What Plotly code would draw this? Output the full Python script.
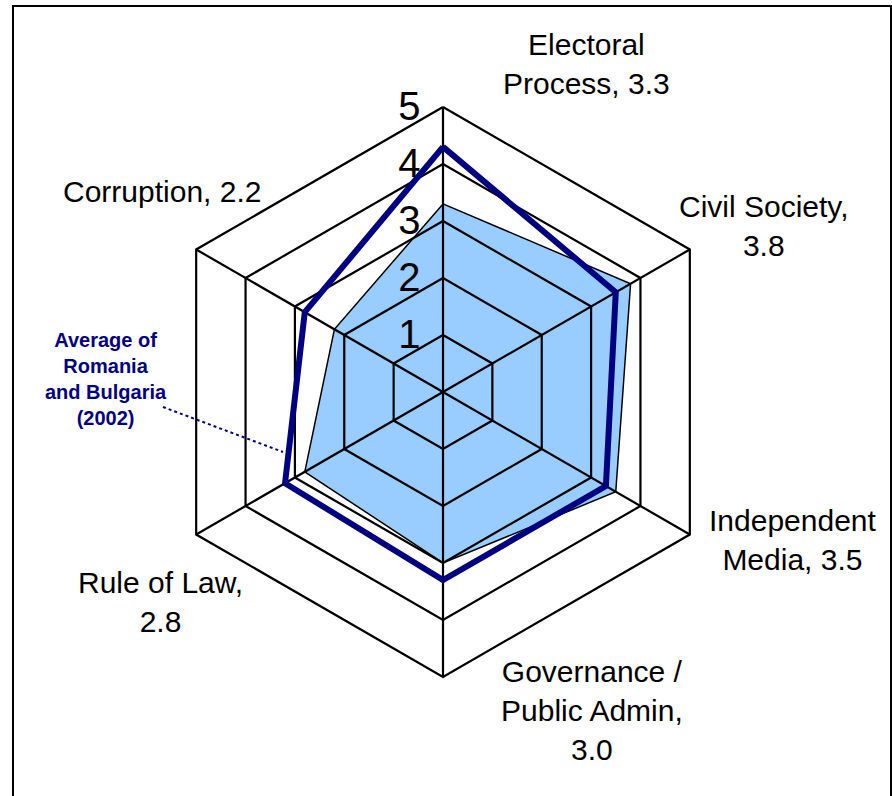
import plotly.graph_objects as go

W, H = 892, 796

categories = ["Electoral Process", "Civil Society", "Independent Media",
              "Governance / Public Admin", "Rule of Law", "Corruption"]
country_scores = [3.3, 3.8, 3.5, 3.0, 2.8, 2.2]
ro_bg_average = [4.3, 3.5, 3.3, 3.3, 3.2, 2.8]
radial_ticks = [1, 2, 3, 4, 5]
category_labels = ["Electoral<br>Process, 3.3", "Civil Society,<br>3.8",
                   "Independent<br>Media, 3.5", "Governance /<br>Public Admin,<br>3.0",
                   "Rule of Law,<br>2.8", "Corruption, 2.2"]


def px_x(v):
    return v / W


def px_y(v):
    return 1 - v / H


closed = categories + categories[:1]

fig = go.Figure()

# filled country profile
fig.add_trace(go.Scatterpolar(
    r=country_scores + country_scores[:1], theta=closed,
    fill="toself", fillcolor="#99CCFF",
    line=dict(color="black", width=1.5), mode="lines",
    hoverinfo="skip", showlegend=False,
))

# grid drawn on top of the fill, as in the original
for t in radial_ticks:
    fig.add_trace(go.Scatterpolar(
        r=[t] * len(closed), theta=closed, mode="lines",
        line=dict(color="black", width=2.2), hoverinfo="skip", showlegend=False,
    ))
for c in categories:
    fig.add_trace(go.Scatterpolar(
        r=[0, radial_ticks[-1]], theta=[c, c], mode="lines",
        line=dict(color="black", width=2.2), hoverinfo="skip", showlegend=False,
    ))

# Romania / Bulgaria average
fig.add_trace(go.Scatterpolar(
    r=ro_bg_average + ro_bg_average[:1], theta=closed, mode="lines",
    line=dict(color="#000080", width=6), showlegend=False,
))

# a little headroom past 5 so the outer ring is not clipped
rmax = 5.05
cx, cy = 443, 392
R = 285 * rmax / 5
fig.update_layout(
    width=W, height=H,
    margin=dict(l=0, r=0, t=0, b=0),
    paper_bgcolor="white",
    font=dict(family="Liberation Sans, Arial, sans-serif", color="black"),
    polar=dict(
        domain=dict(x=[px_x(cx - R), px_x(cx + R)], y=[px_y(cy + R), px_y(cy - R)]),
        gridshape="linear",
        bgcolor="white",
        radialaxis=dict(
            range=[0, rmax], tickvals=radial_ticks, angle=90, tickangle=90,
            side="counterclockwise", showgrid=False, showline=False,
            ticks="outside", ticklen=8, tickcolor="rgba(0,0,0,0)",
            tickfont=dict(size=40, color="black"),
        ),
        angularaxis=dict(
            rotation=90, direction="clockwise", showticklabels=False, ticks="",
            showgrid=False, showline=False,
        ),
    ),
)

label_pos = [(586, 64), (763, 226), (792, 540), (592, 710), (160, 602), (162, 192)]
for txt, (x, y) in zip(category_labels, label_pos):
    fig.add_annotation(x=px_x(x), y=px_y(y), xref="paper", yref="paper",
                       xanchor="center", yanchor="middle",
                       text=txt, showarrow=False, align="center",
                       font=dict(size=30, color="black"))

fig.add_annotation(x=px_x(106), y=px_y(379), xref="paper", yref="paper",
                   xanchor="center", yanchor="middle",
                   text="<b>Average of<br>Romania<br>and Bulgaria<br>(2002)</b>",
                   showarrow=False, align="center",
                   font=dict(size=20, color="#000080"))
fig.add_shape(type="line", xref="paper", yref="paper",
              x0=px_x(163), y0=px_y(407), x1=px_x(283), y1=px_y(452),
              line=dict(color="#000080", width=2, dash="dot"))

# chart frame
fig.add_shape(type="rect", xref="paper", yref="paper",
              x0=px_x(13), y0=px_y(6), x1=px_x(891), y1=px_y(805),
              line=dict(color="black", width=2))

fig.write_html("out.html", config={"displayModeBar": False},
               post_script="document.body.style.margin='0px';")
